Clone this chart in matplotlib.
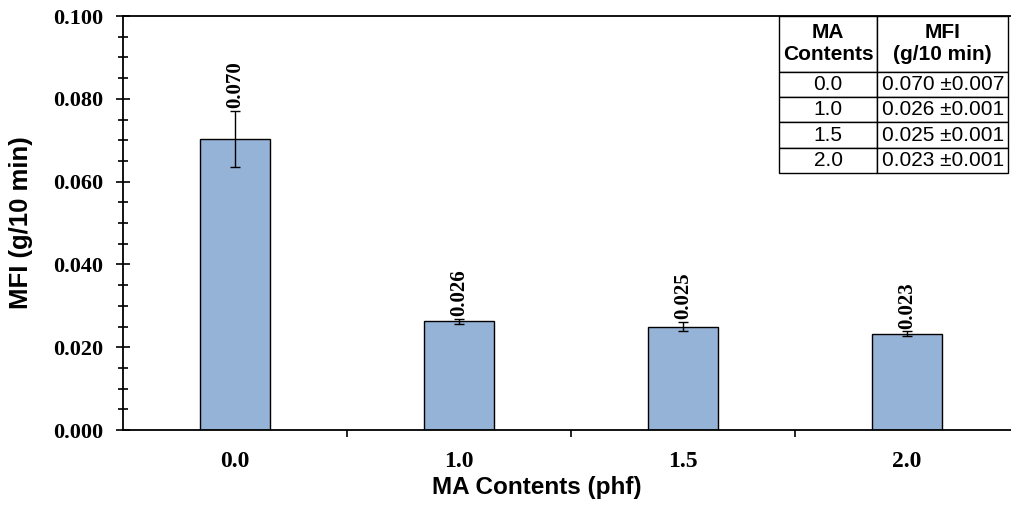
import matplotlib.pyplot as plt
import numpy as np
from matplotlib.ticker import MultipleLocator, FixedLocator

categories = ['0.0', '1.0', '1.5', '2.0']
mfi = [0.0703, 0.0263, 0.0250, 0.0233]
err = [0.0068, 0.0006, 0.0011, 0.0006]
labels = ['0.070', '0.026', '0.025', '0.023']
table_rows = [['0.0', '0.070 \u00b10.007'],
              ['1.0', '0.026 \u00b10.001'],
              ['1.5', '0.025 \u00b10.001'],
              ['2.0', '0.023 \u00b10.001']]

serif = 'Liberation Serif'
sans = 'Liberation Sans'

fig = plt.figure(figsize=(10.11, 5.05), dpi=100)
ax = fig.add_axes([0.1217, 0.1485, 0.8783, 0.8198])

x = np.arange(len(categories))
ax.bar(x, mfi, width=0.31, color='#95B3D7', edgecolor='black', linewidth=1.0, zorder=2)
ax.errorbar(x, mfi, yerr=err, fmt='none', ecolor='black', elinewidth=1.0,
            capsize=3.5, capthick=1.0, zorder=3)
for xi, v, e, t in zip(x, mfi, err, labels):
    ax.text(xi, v + e + 0.0006, t, rotation=90, ha='center', va='bottom',
            fontfamily=serif, fontweight='bold', fontsize=15)

ax.set_xlim(-0.5, 3.464)
ax.set_ylim(0, 0.1)
ax.set_xticks(x)
ax.set_xticklabels(categories, fontfamily=serif, fontweight='bold', fontsize=17)
ax.xaxis.set_minor_locator(FixedLocator([0.5, 1.5, 2.5]))
ax.tick_params(axis='x', which='major', length=0, pad=15)
ax.tick_params(axis='x', which='minor', direction='out', length=5, width=1.2)

ax.yaxis.set_major_locator(MultipleLocator(0.02))
ax.yaxis.set_minor_locator(MultipleLocator(0.005))
ax.set_yticks(np.arange(0, 0.1001, 0.02))
ax.set_yticklabels(['%.3f' % v for v in np.arange(0, 0.1001, 0.02)],
                   fontfamily=serif, fontweight='bold', fontsize=16)
ax.tick_params(axis='y', which='major', direction='inout', length=10, width=1.2, pad=9)
ax.tick_params(axis='y', which='minor', direction='inout', length=7, width=1.2)

for s in ['left', 'bottom', 'top']:
    ax.spines[s].set_linewidth(1.3)
ax.spines['right'].set_visible(False)

ax.set_xlabel('MA Contents (phf)', fontfamily=sans, fontweight='bold', fontsize=17.5)
ax.set_ylabel('MFI (g/10 min)', fontfamily=sans, fontweight='bold', fontsize=18.5)
ax.xaxis.set_label_coords(0.466, -0.110)
ax.yaxis.set_label_coords(-0.101, 0.5)

tab = ax.table(cellText=table_rows, colLabels=['MA\nContents', 'MFI\n(g/10 min)'],
               cellLoc='center', colWidths=[0.43, 0.57],
               bbox=[0.7387, 0.6208, 0.2579, 0.3792], zorder=5)
tab.auto_set_font_size(False)
for (r, c), cell in tab.get_celld().items():
    cell.set_linewidth(1.0)
    cell.set_edgecolor('black')
    cell.PAD = 0.02
    cell.get_text().set_fontfamily(sans)
    cell.get_text().set_fontsize(15)
    if r == 0:
        cell.set_height(cell.get_height() * 2.2)
        cell.get_text().set_fontweight('bold')

fig.savefig('out.png', dpi=100)
